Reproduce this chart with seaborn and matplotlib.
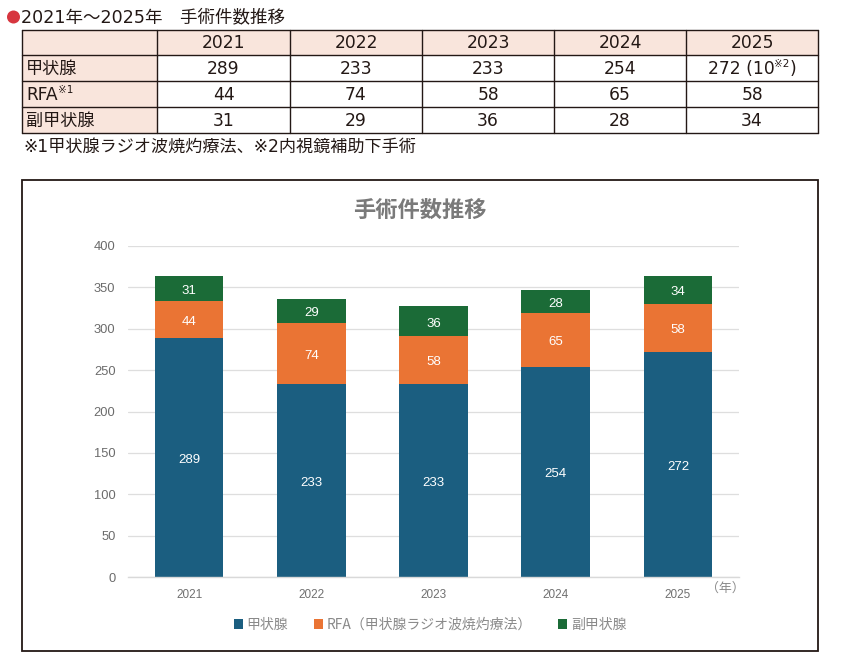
import matplotlib
matplotlib.use("Agg")
import matplotlib.pyplot as plt
import seaborn as sns
import pandas as pd
from matplotlib.patches import Rectangle, Circle
from matplotlib.lines import Line2D

# ---------------- data ----------------
years = ["2021", "2022", "2023", "2024", "2025"]
thyroid = [289, 233, 233, 254, 272]
rfa = [44, 74, 58, 65, 58]
parathyroid = [31, 29, 36, 28, 34]
row_labels = ["甲状腺", "RFA", "副甲状腺"]
series_names = ["甲状腺", "RFA（甲状腺ラジオ波焼灼療法）", "副甲状腺"]
endoscopic_2025 = 10
yticks = [0, 50, 100, 150, 200, 250, 300, 350, 400]
page_title = "2021年～2025年　手術件数推移"
chart_title = "手術件数推移"
footnote = "※1甲状腺ラジオ波焼灼療法、※2内視鏡補助下手術"

BLUE = "#1b5e80"
ORANGE = "#ea7434"
GREEN = "#1b6b37"
PINK = "#f9e5dc"
DARK = "#231815"

sns.set_theme(style="white")
plt.rcParams["font.family"] = ["Noto Sans CJK JP", "DejaVu Sans"]

W, H = 842, 670
fig = plt.figure(figsize=(W / 100, H / 100), dpi=100)
fig.patch.set_facecolor("white")

ov = fig.add_axes([0, 0, 1, 1], zorder=0)
ov.set_xlim(0, W)
ov.set_ylim(H, 0)
ov.axis("off")

# ---------------- page title ----------------
ov.add_patch(Circle((13.5, 17), 6.5, color="#d7363f", lw=0))
ov.text(21, 17.5, page_title, fontsize=12.6, color=DARK, va="center", ha="left",
        family=["DejaVu Sans", "Noto Sans CJK JP"])

# ---------------- table ----------------
col_edges = [22, 157, 290, 422, 554, 686, 818]
row_edges = [30, 55, 81, 107, 133]
NUMFONT = ["DejaVu Sans", "Noto Sans CJK JP"]
TFS = 12.3

ov.add_patch(Rectangle((col_edges[0], row_edges[0]), col_edges[-1] - col_edges[0],
                       row_edges[1] - row_edges[0], facecolor=PINK, lw=0))
ov.add_patch(Rectangle((col_edges[0], row_edges[1]), col_edges[1] - col_edges[0],
                       row_edges[-1] - row_edges[1], facecolor=PINK, lw=0))
for x in col_edges:
    ov.add_line(Line2D([x, x], [row_edges[0], row_edges[-1]], color=DARK, lw=1.0))
for y in row_edges:
    ov.add_line(Line2D([col_edges[0], col_edges[-1]], [y, y], color=DARK, lw=1.0))

def cy(r):
    return (row_edges[r] + row_edges[r + 1]) / 2 + 1

def cx(c):
    return (col_edges[c] + col_edges[c + 1]) / 2

for j, yr in enumerate(years):
    ov.text(cx(j + 1), cy(0), yr, ha="center", va="center", fontsize=TFS,
            color=DARK, family=NUMFONT)

rows = [thyroid, rfa, parathyroid]
for i, lab in enumerate(row_labels):
    for j, v in enumerate(rows[i]):
        if i == 0 and j == len(years) - 1:
            continue
        ov.text(cx(j + 1), cy(i + 1), str(v), ha="center", va="center",
                fontsize=TFS, color=DARK, family=NUMFONT)

fig.canvas.draw()
rend = fig.canvas.get_renderer()

def wpx(t):
    return t.get_window_extent(renderer=rend).width

for i, lab in enumerate(row_labels):
    t = ov.text(26, cy(i + 1), lab, ha="left", va="center", fontsize=TFS,
                color=DARK, family=NUMFONT)
    if lab == "RFA":
        w = wpx(t)
        ov.text(26 + w, cy(i + 1) - 5, "※1", ha="left", va="center",
                fontsize=7.5, color=DARK, family=NUMFONT)

t1 = ov.text(0, cy(1), f"{thyroid[-1]} ({endoscopic_2025}", ha="left", va="center",
             fontsize=TFS, color=DARK, family=NUMFONT)
t2 = ov.text(0, cy(1) - 5, "※2", ha="left", va="center", fontsize=7.5,
             color=DARK, family=NUMFONT)
t3 = ov.text(0, cy(1), ")", ha="left", va="center", fontsize=TFS,
             color=DARK, family=NUMFONT)
w1, w2, w3 = wpx(t1), wpx(t2), wpx(t3)
x0 = cx(5) - (w1 + w2 + w3) / 2
t1.set_x(x0)
t2.set_x(x0 + w1)
t3.set_x(x0 + w1 + w2)

ov.text(23, 147, footnote, ha="left", va="center", fontsize=12.3, color=DARK,
        family=NUMFONT)

# chart box + title
ov.add_patch(Rectangle((22, 180), 818 - 22, 651 - 180, fill=False,
                       edgecolor=DARK, lw=1.3))
ov.text(420, 210, chart_title, ha="center", va="center", fontsize=16,
        fontweight="bold", color="#7a7a7a")
ov.text(706, 588, "（年）", ha="left", va="center", fontsize=9.3, color="#8a8a8a")

# ---------------- bar chart ----------------
ax_l, ax_r, ax_t, ax_b = 128, 739, 246, 577
ax = fig.add_axes([ax_l / W, 1 - ax_b / H, (ax_r - ax_l) / W, (ax_b - ax_t) / H],
                  zorder=2)
ax.set_facecolor("none")

df = pd.DataFrame({"year": years, "thyroid": thyroid, "rfa": rfa,
                   "parathyroid": parathyroid})
df["c1"] = df["thyroid"]
df["c2"] = df["thyroid"] + df["rfa"]
df["c3"] = df["c2"] + df["parathyroid"]

for col, color in [("c3", GREEN), ("c2", ORANGE), ("c1", BLUE)]:
    sns.barplot(data=df, x="year", y=col, color=color, saturation=1,
                width=0.56, ax=ax, linewidth=0, errorbar=None)

for i in range(len(years)):
    b = 0
    for v in (thyroid[i], rfa[i], parathyroid[i]):
        ax.annotate(str(v), (i, b + v / 2), xytext=(0, -1.6),
                    textcoords="offset points", ha="center", va="center",
                    color="white", fontsize=9.5, family=["Liberation Sans"])
        b += v

ax.set_xlim(-0.5, len(years) - 0.5)
ax.set_ylim(0, 400)
ax.set_yticks(yticks)
ax.set_yticklabels([str(v) for v in yticks], family=["Liberation Sans"],
                   fontsize=9.3, color="#6b6b6b")
ax.set_xticks(range(len(years)))
ax.set_xticklabels(years, family=["Liberation Sans"], fontsize=8.5,
                   color="#707070")
ax.tick_params(axis="y", length=0, pad=9)
ax.tick_params(axis="x", length=0, pad=8.5)
ax.set_xlabel("")
ax.set_ylabel("")
ax.yaxis.grid(True, color="#dedede", lw=0.9)
ax.set_axisbelow(True)
for s in ("left", "right", "top"):
    ax.spines[s].set_visible(False)
ax.spines["bottom"].set_color("#d9d9d9")
ax.spines["bottom"].set_linewidth(1.0)

# legend
handles = [Rectangle((0, 0), 1, 1, facecolor=c, lw=0) for c in (BLUE, ORANGE, GREEN)]
leg = fig.legend(handles, series_names, loc="center", ncol=3,
                 bbox_to_anchor=(430 / W, 1 - 625 / H), frameon=False,
                 handlelength=0.65, handleheight=0.65, handletextpad=0.25,
                 columnspacing=1.9, fontsize=10)
for t in leg.get_texts():
    t.set_color("#8a8a8a")

fig.savefig("out.png", dpi=100, facecolor="white")
